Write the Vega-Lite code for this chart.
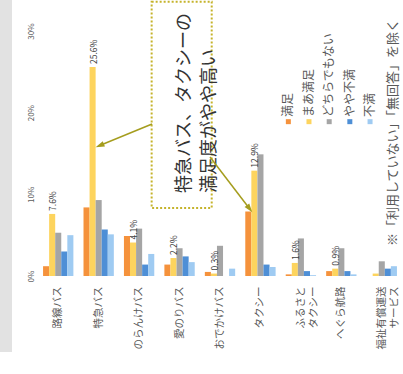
{
  "$schema": "https://vega.github.io/schema/vega-lite/v6.json",
  "autosize": "none",
  "width": 364,
  "height": 276,
  "padding": {"left": 38, "top": 0, "right": 1, "bottom": 98},
  "background": "white",
  "config": {"view": {"stroke": null}, "font": "Noto Sans CJK JP"},
  "datasets": {
    "survey": [
      {"cat": "路線バス", "series": "満足", "value": 0.012},
      {"cat": "路線バス", "series": "まあ満足", "value": 0.076},
      {"cat": "路線バス", "series": "どちらでもない", "value": 0.053},
      {"cat": "路線バス", "series": "やや不満", "value": 0.030},
      {"cat": "路線バス", "series": "不満", "value": 0.050},
      {"cat": "特急バス", "series": "満足", "value": 0.084},
      {"cat": "特急バス", "series": "まあ満足", "value": 0.256},
      {"cat": "特急バス", "series": "どちらでもない", "value": 0.093},
      {"cat": "特急バス", "series": "やや不満", "value": 0.057},
      {"cat": "特急バス", "series": "不満", "value": 0.051},
      {"cat": "のらんけバス", "series": "満足", "value": 0.049},
      {"cat": "のらんけバス", "series": "まあ満足", "value": 0.041},
      {"cat": "のらんけバス", "series": "どちらでもない", "value": 0.058},
      {"cat": "のらんけバス", "series": "やや不満", "value": 0.014},
      {"cat": "のらんけバス", "series": "不満", "value": 0.027},
      {"cat": "愛のりバス", "series": "満足", "value": 0.014},
      {"cat": "愛のりバス", "series": "まあ満足", "value": 0.022},
      {"cat": "愛のりバス", "series": "どちらでもない", "value": 0.034},
      {"cat": "愛のりバス", "series": "やや不満", "value": 0.024},
      {"cat": "愛のりバス", "series": "不満", "value": 0.017},
      {"cat": "おでかけバス", "series": "満足", "value": 0.005},
      {"cat": "おでかけバス", "series": "まあ満足", "value": 0.003},
      {"cat": "おでかけバス", "series": "どちらでもない", "value": 0.037},
      {"cat": "おでかけバス", "series": "やや不満", "value": 0.0},
      {"cat": "おでかけバス", "series": "不満", "value": 0.009},
      {"cat": "タクシー", "series": "満足", "value": 0.079},
      {"cat": "タクシー", "series": "まあ満足", "value": 0.129},
      {"cat": "タクシー", "series": "どちらでもない", "value": 0.149},
      {"cat": "タクシー", "series": "やや不満", "value": 0.014},
      {"cat": "タクシー", "series": "不満", "value": 0.011},
      {"cat": "ふるさと\nタクシー", "series": "満足", "value": 0.002},
      {"cat": "ふるさと\nタクシー", "series": "まあ満足", "value": 0.016},
      {"cat": "ふるさと\nタクシー", "series": "どちらでもない", "value": 0.046},
      {"cat": "ふるさと\nタクシー", "series": "やや不満", "value": 0.006},
      {"cat": "ふるさと\nタクシー", "series": "不満", "value": 0.001},
      {"cat": "へぐら航路", "series": "満足", "value": 0.006},
      {"cat": "へぐら航路", "series": "まあ満足", "value": 0.009},
      {"cat": "へぐら航路", "series": "どちらでもない", "value": 0.034},
      {"cat": "へぐら航路", "series": "やや不満", "value": 0.006},
      {"cat": "へぐら航路", "series": "不満", "value": 0.002},
      {"cat": "福祉有償運送\nサービス", "series": "満足", "value": 0.0},
      {"cat": "福祉有償運送\nサービス", "series": "まあ満足", "value": 0.003},
      {"cat": "福祉有償運送\nサービス", "series": "どちらでもない", "value": 0.018},
      {"cat": "福祉有償運送\nサービス", "series": "やや不満", "value": 0.009},
      {"cat": "福祉有償運送\nサービス", "series": "不満", "value": 0.012}
    ]
  },
  "data": {"name": "survey"},
  "resolve": {"scale": {"x": "independent", "y": "independent"}},
  "layer": [
    {
      "data": {"values": [{}]},
      "mark": {"type": "rect", "fill": "#E2E2E2"},
      "encoding": {
        "x": {"datum": -0.94, "type": "quantitative", "scale": {"domain": [0, 9], "nice": false, "zero": false}, "axis": null},
        "x2": {"datum": -0.643},
        "y": {"datum": 0.338, "type": "quantitative", "scale": {"domain": [0, 0.338], "nice": false, "zero": false}, "axis": null},
        "y2": {"datum": -0.093}
      }
    },
    {
      "mark": {"type": "bar"},
      "encoding": {
        "x": {
          "field": "cat", "type": "nominal",
          "scale": {"domain": ["路線バス", "特急バス", "のらんけバス", "愛のりバス", "おでかけバス", "タクシー", "ふるさと\nタクシー", "へぐら航路", "福祉有償運送\nサービス"], "paddingInner": 0.25, "paddingOuter": 0.125},
          "axis": {"title": null, "labelAngle": -90, "labelAlign": "right", "labelBaseline": "middle", "labelPadding": 10, "ticks": false, "domain": false, "labelFontSize": 10.5, "labelColor": "#595959", "labelExpr": "split(datum.label, '\\n')", "labelLineHeight": 13, "labelLimit": 200}
        },
        "xOffset": {"field": "series", "type": "nominal", "scale": {"domain": ["満足", "まあ満足", "どちらでもない", "やや不満", "不満"], "paddingInner": 0, "paddingOuter": 0}},
        "y": {
          "field": "value", "type": "quantitative",
          "scale": {"domain": [0, 0.338], "nice": false, "zero": false},
          "axis": {"title": null, "values": [0, 0.1, 0.2, 0.3], "format": ".0%", "labelAngle": -90, "labelAlign": "center", "labelBaseline": "bottom", "labelPadding": 3, "ticks": false, "domain": false, "gridColor": "#D9D9D9", "labelFontSize": 8, "labelColor": "#595959"}
        },
        "color": {"field": "series", "type": "nominal", "scale": {"domain": ["満足", "まあ満足", "どちらでもない", "やや不満", "不満"], "range": ["#F5923C", "#FDD45E", "#A5A5A5", "#4E8FD6", "#9FCBF2"]}, "legend": null}
      }
    },
    {
      "transform": [{"filter": "datum.series == 'まあ満足' && indexof(datum.cat, '福祉') < 0"}],
      "mark": {"type": "text", "angle": -90, "align": "left", "baseline": "middle", "dx": 3, "dy": 1, "fontSize": 8.5, "color": "#404040"},
      "encoding": {
        "x": {"field": "cat", "type": "nominal", "scale": {"domain": ["路線バス", "特急バス", "のらんけバス", "愛のりバス", "おでかけバス", "タクシー", "ふるさと\nタクシー", "へぐら航路", "福祉有償運送\nサービス"], "paddingInner": 0.25, "paddingOuter": 0.125}, "axis": null},
        "xOffset": {"field": "series", "type": "nominal", "scale": {"domain": ["満足", "まあ満足", "どちらでもない", "やや不満", "不満"], "paddingInner": 0, "paddingOuter": 0}},
        "y": {"field": "value", "type": "quantitative", "scale": {"domain": [0, 0.338], "nice": false, "zero": false}, "axis": null},
        "text": {"field": "value", "type": "quantitative", "format": ".1%"}
      }
    },
    {
      "data": {"values": [{}]},
      "mark": {"type": "rect", "fill": "white"},
      "encoding": {
        "x": {"datum": 5.91, "type": "quantitative", "scale": {"domain": [0, 9], "nice": false, "zero": false}, "axis": null},
        "x2": {"datum": 9.05},
        "y": {"datum": 0.34, "type": "quantitative", "scale": {"domain": [0, 0.338], "nice": false, "zero": false}, "axis": null},
        "y2": {"datum": 0.179}
      }
    },
    {
      "data": {"values": [{}]},
      "mark": {"type": "rect", "fill": "white"},
      "encoding": {
        "x": {"datum": 8.41, "type": "quantitative", "scale": {"domain": [0, 9], "nice": false, "zero": false}, "axis": null},
        "x2": {"datum": 9.05},
        "y": {"datum": 0.34, "type": "quantitative", "scale": {"domain": [0, 0.338], "nice": false, "zero": false}, "axis": null},
        "y2": {"datum": 0.032}
      }
    },
    {
      "data": {"values": [{}]},
      "mark": {"type": "rect", "fill": "white", "stroke": "#C5B32B", "strokeWidth": 2, "strokeDash": [2, 2]},
      "encoding": {
        "x": {"datum": 2.81, "type": "quantitative", "scale": {"domain": [0, 9], "nice": false, "zero": false}, "axis": null},
        "x2": {"datum": 4.295},
        "y": {"datum": 0.336, "type": "quantitative", "scale": {"domain": [0, 0.338], "nice": false, "zero": false}, "axis": null},
        "y2": {"datum": 0.0833}
      }
    },
    {
      "data": {"values": [{}]},
      "mark": {"type": "text", "angle": -90, "align": "left", "baseline": "middle", "fontSize": 18, "lineHeight": 25, "color": "#333333", "text": ["特急バス、タクシーの", "満足度がやや高い"]},
      "encoding": {
        "x": {"datum": 3.623, "type": "quantitative", "scale": {"domain": [0, 9], "nice": false, "zero": false}, "axis": null},
        "y": {"datum": 0.1016, "type": "quantitative", "scale": {"domain": [0, 0.338], "nice": false, "zero": false}, "axis": null}
      }
    },
    {
      "data": {"values": [{}]},
      "mark": {"type": "rule", "color": "#A59D1E", "strokeWidth": 1.5},
      "encoding": {
        "x": {"datum": 2.82, "type": "quantitative", "scale": {"domain": [0, 9], "nice": false, "zero": false}, "axis": null},
        "x2": {"datum": 1.526},
        "y": {"datum": 0.1861, "type": "quantitative", "scale": {"domain": [0, 0.338], "nice": false, "zero": false}, "axis": null},
        "y2": {"datum": 0.1598}
      }
    },
    {
      "data": {"values": [{}]},
      "mark": {"type": "point", "shape": "M0,-1L0.65,1L-0.65,1Z", "filled": true, "size": 80, "angle": 248, "color": "#A59D1E", "opacity": 1},
      "encoding": {
        "x": {"datum": 1.526, "type": "quantitative", "scale": {"domain": [0, 9], "nice": false, "zero": false}, "axis": null},
        "y": {"datum": 0.1598, "type": "quantitative", "scale": {"domain": [0, 0.338], "nice": false, "zero": false}, "axis": null}
      }
    },
    {
      "data": {"values": [{}]},
      "mark": {"type": "rule", "color": "#A59D1E", "strokeWidth": 1.5},
      "encoding": {
        "x": {"datum": 4.253, "type": "quantitative", "scale": {"domain": [0, 9], "nice": false, "zero": false}, "axis": null},
        "x2": {"datum": 5.232},
        "y": {"datum": 0.1457, "type": "quantitative", "scale": {"domain": [0, 0.338], "nice": false, "zero": false}, "axis": null},
        "y2": {"datum": 0.0823}
      }
    },
    {
      "data": {"values": [{}]},
      "mark": {"type": "point", "shape": "M0,-1L0.65,1L-0.65,1Z", "filled": true, "size": 80, "angle": 143, "color": "#A59D1E", "opacity": 1},
      "encoding": {
        "x": {"datum": 5.232, "type": "quantitative", "scale": {"domain": [0, 9], "nice": false, "zero": false}, "axis": null},
        "y": {"datum": 0.0823, "type": "quantitative", "scale": {"domain": [0, 0.338], "nice": false, "zero": false}, "axis": null}
      }
    },
    {
      "data": {"values": [{}]},
      "mark": {"type": "point", "shape": "square", "filled": true, "size": 25, "opacity": 1, "color": "#F5923C"},
      "encoding": {
        "x": {"datum": 6.19, "type": "quantitative", "scale": {"domain": [0, 9], "nice": false, "zero": false}, "axis": null},
        "y": {"datum": 0.189, "type": "quantitative", "scale": {"domain": [0, 0.338], "nice": false, "zero": false}, "axis": null}
      }
    },
    {
      "data": {"values": [{}]},
      "mark": {"type": "text", "angle": -90, "align": "left", "baseline": "middle", "fontSize": 12, "color": "#595959", "text": "満足"},
      "encoding": {
        "x": {"datum": 6.19, "type": "quantitative", "scale": {"domain": [0, 9], "nice": false, "zero": false}, "axis": null},
        "y": {"datum": 0.1947, "type": "quantitative", "scale": {"domain": [0, 0.338], "nice": false, "zero": false}, "axis": null}
      }
    },
    {
      "data": {"values": [{}]},
      "mark": {"type": "point", "shape": "square", "filled": true, "size": 25, "opacity": 1, "color": "#FDD45E"},
      "encoding": {
        "x": {"datum": 6.70, "type": "quantitative", "scale": {"domain": [0, 9], "nice": false, "zero": false}, "axis": null},
        "y": {"datum": 0.189, "type": "quantitative", "scale": {"domain": [0, 0.338], "nice": false, "zero": false}, "axis": null}
      }
    },
    {
      "data": {"values": [{}]},
      "mark": {"type": "text", "angle": -90, "align": "left", "baseline": "middle", "fontSize": 12, "color": "#595959", "text": "まあ満足"},
      "encoding": {
        "x": {"datum": 6.70, "type": "quantitative", "scale": {"domain": [0, 9], "nice": false, "zero": false}, "axis": null},
        "y": {"datum": 0.1947, "type": "quantitative", "scale": {"domain": [0, 0.338], "nice": false, "zero": false}, "axis": null}
      }
    },
    {
      "data": {"values": [{}]},
      "mark": {"type": "point", "shape": "square", "filled": true, "size": 25, "opacity": 1, "color": "#A5A5A5"},
      "encoding": {
        "x": {"datum": 7.20, "type": "quantitative", "scale": {"domain": [0, 9], "nice": false, "zero": false}, "axis": null},
        "y": {"datum": 0.189, "type": "quantitative", "scale": {"domain": [0, 0.338], "nice": false, "zero": false}, "axis": null}
      }
    },
    {
      "data": {"values": [{}]},
      "mark": {"type": "text", "angle": -90, "align": "left", "baseline": "middle", "fontSize": 12, "color": "#595959", "text": "どちらでもない"},
      "encoding": {
        "x": {"datum": 7.20, "type": "quantitative", "scale": {"domain": [0, 9], "nice": false, "zero": false}, "axis": null},
        "y": {"datum": 0.1947, "type": "quantitative", "scale": {"domain": [0, 0.338], "nice": false, "zero": false}, "axis": null}
      }
    },
    {
      "data": {"values": [{}]},
      "mark": {"type": "point", "shape": "square", "filled": true, "size": 25, "opacity": 1, "color": "#4E8FD6"},
      "encoding": {
        "x": {"datum": 7.71, "type": "quantitative", "scale": {"domain": [0, 9], "nice": false, "zero": false}, "axis": null},
        "y": {"datum": 0.189, "type": "quantitative", "scale": {"domain": [0, 0.338], "nice": false, "zero": false}, "axis": null}
      }
    },
    {
      "data": {"values": [{}]},
      "mark": {"type": "text", "angle": -90, "align": "left", "baseline": "middle", "fontSize": 12, "color": "#595959", "text": "やや不満"},
      "encoding": {
        "x": {"datum": 7.71, "type": "quantitative", "scale": {"domain": [0, 9], "nice": false, "zero": false}, "axis": null},
        "y": {"datum": 0.1947, "type": "quantitative", "scale": {"domain": [0, 0.338], "nice": false, "zero": false}, "axis": null}
      }
    },
    {
      "data": {"values": [{}]},
      "mark": {"type": "point", "shape": "square", "filled": true, "size": 25, "opacity": 1, "color": "#9FCBF2"},
      "encoding": {
        "x": {"datum": 8.21, "type": "quantitative", "scale": {"domain": [0, 9], "nice": false, "zero": false}, "axis": null},
        "y": {"datum": 0.189, "type": "quantitative", "scale": {"domain": [0, 0.338], "nice": false, "zero": false}, "axis": null}
      }
    },
    {
      "data": {"values": [{}]},
      "mark": {"type": "text", "angle": -90, "align": "left", "baseline": "middle", "fontSize": 12, "color": "#595959", "text": "不満"},
      "encoding": {
        "x": {"datum": 8.21, "type": "quantitative", "scale": {"domain": [0, 9], "nice": false, "zero": false}, "axis": null},
        "y": {"datum": 0.1947, "type": "quantitative", "scale": {"domain": [0, 0.338], "nice": false, "zero": false}, "axis": null}
      }
    },
    {
      "data": {"values": [{}]},
      "mark": {"type": "text", "angle": -90, "align": "left", "baseline": "middle", "fontSize": 13, "color": "#595959", "text": "※「利用していない」「無回答」を除く"},
      "encoding": {
        "x": {"datum": 8.78, "type": "quantitative", "scale": {"domain": [0, 9], "nice": false, "zero": false}, "axis": null},
        "y": {"datum": 0.0367, "type": "quantitative", "scale": {"domain": [0, 0.338], "nice": false, "zero": false}, "axis": null}
      }
    }
  ]
}
